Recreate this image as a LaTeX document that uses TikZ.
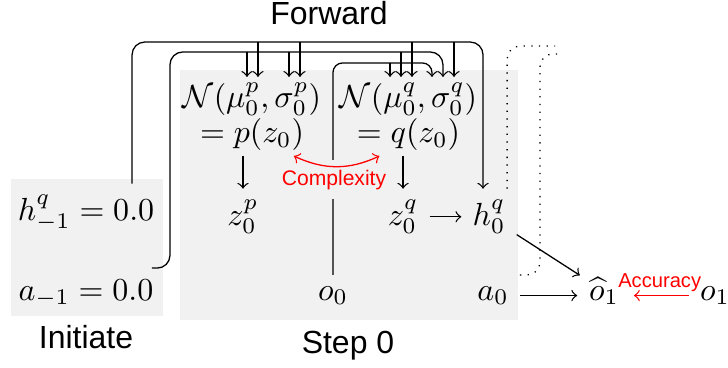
\documentclass[tikz,border=0pt]{standalone}
\usepackage{fontspec}
\setsansfont{Liberation Sans}
\definecolor{panelgray}{gray}{0.945}
\begin{document}
\begin{tikzpicture}[>=to,
  panel/.style={fill=panelgray, draw=none, inner sep=0pt},
  word/.style={font=\sffamily},
  redword/.style={font=\sffamily\fontsize{6.6}{8}\selectfont, text=red},
  dist/.style={align=center, inner sep=1.5pt}]
\useasboundingbox (0,0) rectangle (8,4.044);
\node[panel, minimum width=1.670cm, minimum height=1.505cm] (initbox) at (0.956,1.324) {};
\node[panel, minimum width=3.714cm, minimum height=2.747cm] (stepbox) at (3.835,1.901) {};
\node[word, anchor=base] (fwd) at (3.615,3.780) {Forward};
\node[word, anchor=base] (init) at (0.945,0.209) {Initiate};
\node[word, anchor=base] (step) at (3.824,0.154) {Step 0};
\node[anchor=base] (hm) at (0.945,1.626) {$h^q_{-1} = 0.0$};
\node[anchor=base] (am) at (0.945,0.747) {$a_{-1} = 0.0$};
\node[dist] (np) at (2.769,2.764) {$\mathcal{N}(\mu^p_0,\sigma^p_0)$\\[-1pt]$=p(z_0)$};
\node[dist] (nq) at (4.489,2.764) {$\mathcal{N}(\mu^q_0,\sigma^q_0)$\\[-1pt]$=q(z_0)$};
\node[anchor=base] (zp) at (2.670,1.571) {$z^p_0$};
\node[anchor=base] (zq) at (4.429,1.571) {$z^q_0$};
\node[anchor=base] (hq) at (5.374,1.571) {$h^q_0$};
\node[anchor=base] (oz) at (3.659,0.747) {$o_0$};
\node[anchor=base] (az) at (5.418,0.747) {$a_0$};
\node[anchor=base, inner sep=1pt] (ohat) at (6.637,0.747) {$\widehat{o}_1$};
\node[anchor=base] (oone) at (7.857,0.747) {$o_1$};
% where the forward lines turn and land
\coordinate (hturn) at (1.451,3.582);
\coordinate (hend) at (5.308,3.582);
\coordinate (aturn) at (1.868,3.473);
\coordinate (aend) at (4.868,3.473);
\coordinate (oend) at (4.747,3.352);
\coordinate (pmuA) at (2.714,0 |- np.north);
\coordinate (pmuB) at (2.835,0 |- np.north);
\coordinate (psigA) at (3.176,0 |- np.north);
\coordinate (psigB) at (3.297,0 |- np.north);
\coordinate (qmuA) at (4.286,0 |- nq.north);
\coordinate (qmuB) at (4.407,0 |- nq.north);
\coordinate (qmuC) at (4.527,0 |- nq.north);
\coordinate (qsigC) at (4.989,0 |- nq.north);
\coordinate (hnext) at (6.099,3.538);
\coordinate (aup) at (5.934,3.451);
\coordinate (anext) at (6.154,3.451);
% h line
\draw[->, rounded corners] (hturn |- hm.north) -- (hturn) -- (hend) -- (hend |- hq.north);
\draw[->] (hturn -| pmuB) -- (pmuB);
\draw[->] (hturn -| psigB) -- (psigB);
\draw[->] (hturn -| qmuC) -- (qmuC);
\draw[->] (hturn -| qsigC) -- (qsigC);
% a line
\draw[->, rounded corners] ([xshift=-4pt]am.north east) -| (aturn) -| (aend |- nq.north);
\draw[->] (aturn -| pmuA) -- (pmuA);
\draw[->] (aturn -| psigA) -- (psigA);
\draw[->] (aturn -| qmuB) -- (qmuB);
% o line
\draw[->, rounded corners=3pt] (oz.north) |- (oend) -- (oend |- nq.north);
\draw[->] (oend -| qmuA) -- (qmuA);
% inside the step
\draw[->] (np.south -| zp) -- (zp);
\draw[->] (nq.south -| zq) -- (zq);
\draw[->] (zq.east) -- (zq.east -| hq.west);
\node[redword, anchor=base, fill=panelgray, inner ysep=3pt] (cplx) at (3.670,2.010) {Complexity};
\draw[<->, red] ([xshift=0.46cm]np.south) to[bend right=25] ([xshift=-0.32cm]nq.south);
% prediction
\draw[->, shorten >=2pt] (hq) -- (ohat);
\draw[->, shorten >=2.5pt] (az.east) -- (az.east -| ohat.west);
\draw[->, red, shorten >=3.5pt] (oone.west) -- (oone.west -| ohat.east) node[pos=0.44, above=1pt, redword, font=\sffamily\fontsize{6.3}{8}\selectfont, inner sep=0pt] (acc) {Accuracy};
% on to the next step
\draw[dotted, rounded corners] ([xshift=-3pt]hq.north east) |- (hnext);
\draw[dotted, rounded corners] (az.north east) -| (aup) -- (anext);
\end{tikzpicture}
\end{document}
